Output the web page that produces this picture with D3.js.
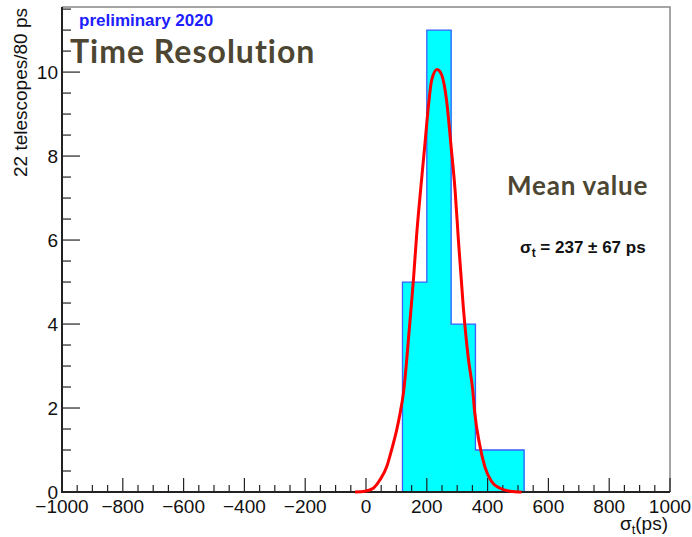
<!DOCTYPE html>
<html>
<head>
<meta charset="utf-8">
<script src="https://cdn.jsdelivr.net/npm/d3@7"></script>
<style>
	body { margin: 0; background: #fff; }
	svg { display: block; }
</style>
</head>
<body>
<svg id="chart" width="692" height="537"></svg>
<script>
//histogram : 22 telescopes, bins of 80 ps
var binEdges = [120, 200, 280, 360, 440, 520];
var binCounts = [5, 11, 4, 1, 1];

//gaussian fit, points (ps, entries)
var fitX = [-36, -3, 24, 46, 68, 84, 101, 112, 123, 145, 156, 167, 181, 194, 205, 216, 234, 249, 265, 280, 293, 304, 320, 336, 351, 358, 373, 391, 413, 441, 474, 512];
var fitY = [0, 0.02, 0.09, 0.29, 0.6, 1.0, 1.48, 1.87, 2.35, 4.1, 5.05, 6.16, 7.3, 8.3, 9.17, 9.81, 10.06, 9.93, 9.33, 8.22, 7.19, 6.0, 4.41, 3.22, 2.43, 1.87, 1.16, 0.6, 0.25, 0.09, 0.02, 0];

//axis labels
var xTickValues = [-1000, -800, -600, -400, -200, 0, 200, 400, 600, 800, 1000];
var yTickValues = [0, 2, 4, 6, 8, 10];

var svg = d3.select('#chart');
var padL = 62, padR = 670, padT = 7, padB = 492;

var x = d3.scaleLinear().domain([-1000, 1000]).range([padL, padR]);
var y = d3.scaleLinear().domain([0, 11.55]).range([padB, padT]);

//frame (top and right drawn grey and thin)
svg.append('path')
	.attr('d', 'M' + padL + ',' + padT + 'H' + padR + 'V' + padB)
	.attr('fill', 'none')
	.attr('stroke', '#888')
	.attr('stroke-width', 1.5);

//histogram fill
var bins = binCounts.map(function(c, i) { return {x0: binEdges[i], x1: binEdges[i + 1], n: c}; });
svg.append('g').selectAll('rect')
	.data(bins)
	.enter().append('rect')
	.attr('x', function(d) { return x(d.x0); })
	.attr('width', function(d) { return x(d.x1) - x(d.x0) + 0.6; })
	.attr('y', function(d) { return y(d.n); })
	.attr('height', function(d) { return y(0) - y(d.n); })
	.attr('fill', '#00ffff');

//histogram outline as a step line
var steps = [[binEdges[0], 0]];
bins.forEach(function(d) { steps.push([d.x0, d.n]); steps.push([d.x1, d.n]); });
steps.push([binEdges[binEdges.length - 1], 0]);
svg.append('path')
	.datum(steps)
	.attr('d', d3.line().x(function(d) { return x(d[0]); }).y(function(d) { return y(d[1]); }))
	.attr('fill', 'none')
	.attr('stroke', '#3d5cff')
	.attr('stroke-width', 1.3);

//axes : ticks inside the frame
var minorX = d3.range(-1000, 1001, 50);
var minorY = d3.range(0, 11.51, 0.5);
var ticks = svg.append('g').attr('stroke', '#222').attr('stroke-width', 1.2);
ticks.selectAll('.xt')
	.data(minorX)
	.enter().append('line')
	.attr('x1', function(d) { return x(d); })
	.attr('x2', function(d) { return x(d); })
	.attr('y1', padB)
	.attr('y2', function(d) { return padB - (d % 200 == 0 ? 14 : 7); });
ticks.selectAll('.yt')
	.data(minorY)
	.enter().append('line')
	.attr('y1', function(d) { return y(d); })
	.attr('y2', function(d) { return y(d); })
	.attr('x1', padL)
	.attr('x2', function(d) { return padL + (d % 2 == 0 ? 18 : 9); });

svg.append('path')
	.attr('d', 'M' + padL + ',' + padT + 'V' + padB + 'H' + padR)
	.attr('fill', 'none')
	.attr('stroke', '#222')
	.attr('stroke-width', 2);

//fit curve
svg.append('path')
	.datum(fitX.map(function(v, i) { return [v, fitY[i]]; }))
	.attr('d', d3.line()
		.x(function(d) { return x(d[0]); })
		.y(function(d) { return y(d[1]); })
		.curve(d3.curveMonotoneX))
	.attr('fill', 'none')
	.attr('stroke', '#ff0000')
	.attr('stroke-width', 3);

//tick labels
var axisFont = '"Liberation Sans", Arial, Helvetica, sans-serif';
svg.append('g').selectAll('text')
	.data(xTickValues)
	.enter().append('text')
	.attr('x', function(d) { return x(d); })
	.attr('y', 513)
	.attr('text-anchor', 'middle')
	.attr('font-family', axisFont)
	.attr('font-size', 19)
	.attr('fill', '#111')
	.text(function(d) { return d < 0 ? '\u2212' + (-d) : d; });

svg.append('g').selectAll('text')
	.data(yTickValues)
	.enter().append('text')
	.attr('x', 58)
	.attr('y', function(d) { return y(d) + 7; })
	.attr('text-anchor', 'end')
	.attr('font-family', axisFont)
	.attr('font-size', 19)
	.attr('fill', '#111')
	.text(function(d) { return d; });

//axis titles
svg.append('text')
	.attr('transform', 'translate(27,8) rotate(-90)')
	.attr('text-anchor', 'end')
	.attr('font-family', axisFont)
	.attr('font-size', 19)
	.attr('fill', '#111')
	.text('22 telescopes/80 ps');

var xt = svg.append('text')
	.attr('x', 668)
	.attr('y', 530)
	.attr('text-anchor', 'end')
	.attr('font-family', axisFont)
	.attr('font-size', 19)
	.attr('fill', '#111');
xt.append('tspan').text('\u03c3');
xt.append('tspan').attr('font-size', 13).attr('dy', 4).text('t');
xt.append('tspan').attr('dy', -4).text('(ps)');

//annotations
svg.append('text')
	.attr('x', 79)
	.attr('y', 26)
	.attr('font-family', axisFont)
	.attr('font-weight', 'bold')
	.attr('font-size', 17)
	.attr('fill', '#2020ff')
	.text('preliminary 2020');

svg.append('text')
	.attr('x', 70)
	.attr('y', 63)
	.attr('font-family', 'Lato, "Open Sans", sans-serif')
	.attr('font-weight', 'bold')
	.attr('font-size', 32)
	.attr('letter-spacing', 1)
	.attr('fill', '#4d4632')
	.text('Time Resolution');

svg.append('text')
	.attr('x', 507)
	.attr('y', 195)
	.attr('font-family', 'Lato, "Open Sans", sans-serif')
	.attr('font-weight', 'bold')
	.attr('font-size', 26)
	.attr('letter-spacing', 0.8)
	.attr('fill', '#4d4632')
	.text('Mean value');

var st = svg.append('text')
	.attr('x', 520)
	.attr('y', 253)
	.attr('font-family', axisFont)
	.attr('font-weight', 'bold')
	.attr('font-size', 17)
	.attr('fill', '#111');
st.append('tspan').text('\u03c3');
st.append('tspan').attr('font-size', 12).attr('dy', 4).text('t');
st.append('tspan').attr('dy', -4).text(' = 237 \u00b1 67 ps');
</script>
</body>
</html>
